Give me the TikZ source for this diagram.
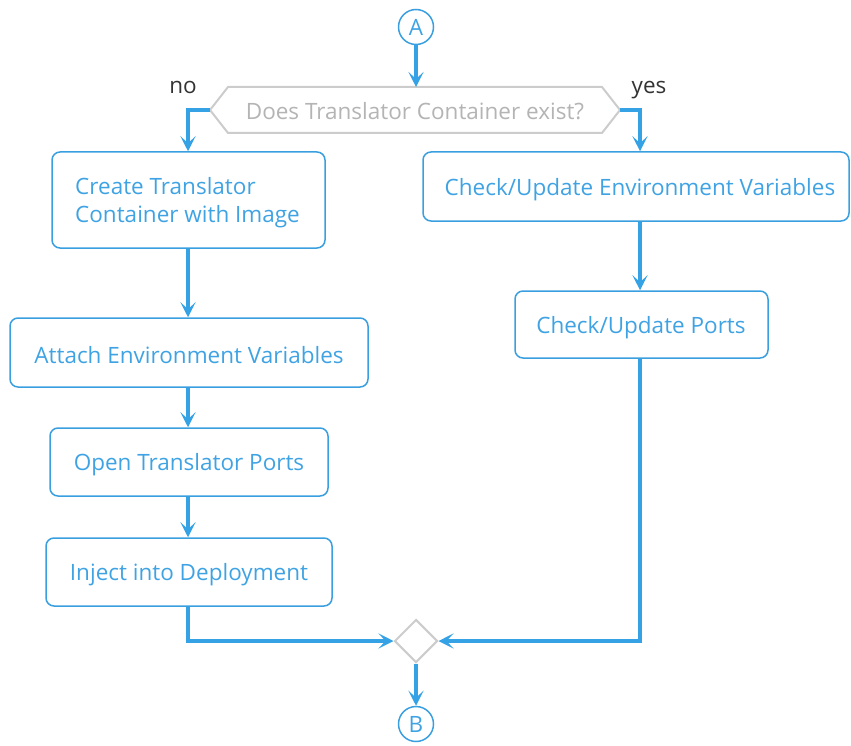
\documentclass[tikz,border=0pt]{standalone}
\usepackage{fontspec}
\setmainfont{Open Sans}
\usetikzlibrary{arrows.meta,shapes.geometric}
\definecolor{flow}{HTML}{36A2E6}
\definecolor{boxline}{HTML}{3A9FDF}
\definecolor{boxtext}{HTML}{3FA3E3}
\definecolor{decline}{HTML}{CCCCCC}
\definecolor{dectext}{HTML}{B4B4B4}
\definecolor{lbl}{HTML}{333333}
\begin{document}
\begin{tikzpicture}[x=1pt,y=-1pt,
  font=\fontsize{22.5}{28}\selectfont,
  actbox/.style={draw=boxline,line width=1.5pt,rounded corners=8pt},
  boxlabel/.style={text=boxtext,inner sep=0pt},
  conn/.style={draw=flow,line width=4pt,-{Stealth[length=15pt,width=15pt,inset=7pt]}},
  circ/.style={circle,draw=boxline,line width=1.5pt,minimum size=35pt,inner sep=0pt,text=boxtext},
  branch/.style={text=lbl}]
\useasboundingbox (0,0) rectangle (851,746);

% connectors circles
\node[circ] (A) at (416,27) {A};
\node[circ] (B) at (416,724) {B};

% decision hexagon
\draw[draw=decline,line width=2pt,fill=white] (210,110) -- (228,87) -- (602,87) -- (620,110) -- (602,133) -- (228,133) -- cycle;
\coordinate (dtop) at (416,87);
\coordinate (dleft) at (210,110);
\coordinate (dright) at (620,110);
\node[text=dectext] (dq) at (415,111) {Does Translator Container exist?};
\node[branch,anchor=base] (no) at (183,94) {no};
\node[branch,anchor=base] (yes) at (649,94) {yes};

% left column
\node[actbox,minimum width=273pt,minimum height=96pt] (create) at (188.5,200) {};
\node[boxlabel,align=left,anchor=west] (createtxt) at (75,203) {Create Translator\\Container with Image};
\node[actbox,minimum width=358pt,minimum height=69pt] (attach) at (189,352.5) {};
\node[boxlabel] (attachtxt) at (189,355) {Attach Environment Variables};
\node[actbox,minimum width=278pt,minimum height=68pt] (open) at (189,462) {};
\node[boxlabel] (opentxt) at (189,464.5) {Open Translator Ports};
\node[actbox,minimum width=286pt,minimum height=68pt] (inject) at (189,572) {};
\node[boxlabel] (injecttxt) at (189,574.5) {Inject into Deployment};

% right column
\node[actbox,minimum width=426pt,minimum height=69pt] (env) at (636,186.5) {};
\node[boxlabel] (envtxt) at (640,189.5) {Check/Update Environment Variables};
\node[actbox,minimum width=253pt,minimum height=67pt] (ports) at (641.5,324.5) {};
\node[boxlabel] (portstxt) at (641,327.5) {Check/Update Ports};

% merge diamond
\node[diamond,draw=decline,line width=2pt,minimum width=43pt,minimum height=43pt,inner sep=0pt,aspect=1] (merge) at (416,641) {};

% arrows
\draw[conn] (A.south) -- (dtop);
\draw[conn] (dleft) -- (188,110) -- (create.north -| 188,0);
\draw[conn] (dright) -- (640,110) -- (env.north -| 640,0);
\draw[conn] (create.south -| 188,0) -- (attach.north -| 188,0);
\draw[conn] (attach.south -| 188,0) -- (open.north -| 188,0);
\draw[conn] (open.south -| 188,0) -- (inject.north -| 188,0);
\draw[conn] (env.south -| 640,0) -- (ports.north -| 640,0);
\draw[conn] (inject.south -| 188,0) -- (188,641) -- (merge.west);
\draw[conn] (ports.south -| 640,0) -- (640,641) -- (merge.east);
\draw[conn] (merge.south) -- (B.north);
\end{tikzpicture}
\end{document}
